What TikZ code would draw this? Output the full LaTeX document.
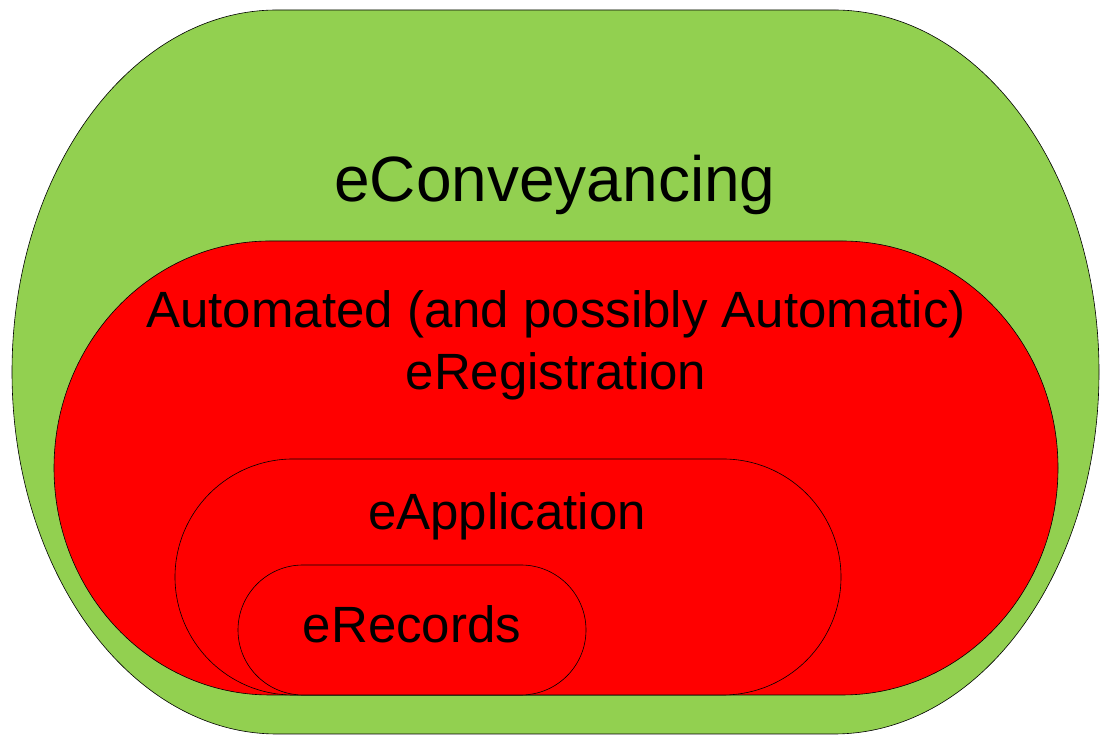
\documentclass[tikz,border=0pt]{standalone}
\usepackage{fontspec}
\setmainfont{Liberation Sans}
\usepackage{tikz}
\usetikzlibrary{positioning}
\definecolor{officegreen}{HTML}{92D050}
\definecolor{officered}{HTML}{FF0000}
\tikzstyle{zone} = [draw=black, line width=0.6pt]
\tikzstyle{biglabel} = [font=\fontsize{64}{76}\selectfont, anchor=base, inner sep=0pt]
\tikzstyle{label} = [font=\fontsize{51}{62}\selectfont, anchor=base, inner sep=0pt, align=center]

\begin{document}
\begin{tikzpicture}[x=1pt, y=1pt]
        \useasboundingbox (0,0) rectangle (1100,735);

        \draw [zone, fill=officegreen] (277,725) -- (834,725)
            arc [start angle=90, end angle=0, x radius=265pt, y radius=362pt]
            arc [start angle=0, end angle=-90, x radius=265pt, y radius=362pt]
            -- (277,1)
            arc [start angle=270, end angle=180, x radius=265pt, y radius=362pt]
            arc [start angle=180, end angle=90, x radius=265pt, y radius=362pt] -- cycle;
        \draw [zone, fill=officered] (270,494) -- (842,494)
            arc [start angle=90, end angle=0, x radius=216pt, y radius=227pt]
            arc [start angle=0, end angle=-90, x radius=216pt, y radius=227pt]
            -- (270,40)
            arc [start angle=270, end angle=180, x radius=216pt, y radius=227pt]
            arc [start angle=180, end angle=90, x radius=216pt, y radius=227pt] -- cycle;
        \draw [zone, fill=officered, rounded corners=118pt] (175,40) rectangle (841,276);
        \draw [zone, fill=officered, rounded corners=65pt] (238,40) rectangle (586,170);

        \node [biglabel] (conveyancing) at (555,533) {eConveyancing};
        \node [label] (registration) at (556,345) {Automated (and possibly Automatic)\\eRegistration};
        \node [label] (application) at (507,205) {eApplication};
        \node [label] (records) at (412,92) {eRecords};
    \end{tikzpicture}
\end{document}
